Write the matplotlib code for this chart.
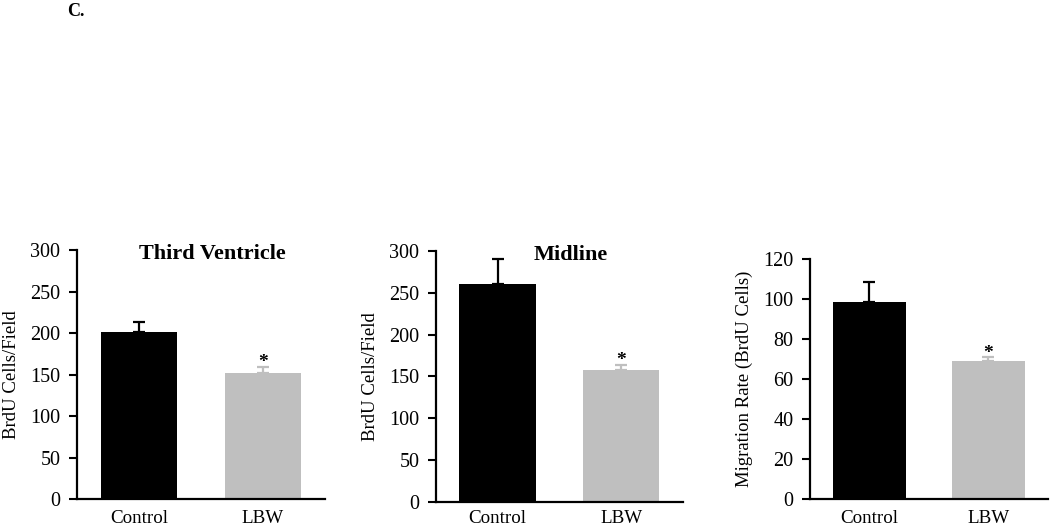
import matplotlib.pyplot as plt

plt.rcParams['font.family'] = ['Liberation Serif', 'DejaVu Serif']

# Data
groups = ['Control', 'LBW']
third_ventricle = [201, 152]
third_ventricle_err = [12, 7]
midline = [260, 158]
midline_err = [30, 6]
migration = [98.5, 69]
migration_err = [10, 1.8]

bar_colors = ['#000000', '#BFBFBF']

fig = plt.figure(figsize=(10.5, 5.29), dpi=100)

panels = [
    # (rect, values, errors, ylim, yticks, ylabel, title, xlabel pad)
    ([0.0733, 0.0567, 0.2362, 0.4707], third_ventricle, third_ventricle_err,
     300, range(0, 301, 50), 'BrdU Cells/Field', 'Third Ventricle', 8),
    ([0.4152, 0.0510, 0.2352, 0.4750], midline, midline_err,
     300, range(0, 301, 50), 'BrdU Cells/Field', 'Midline', 6),
    ([0.7714, 0.0567, 0.2267, 0.4537], migration, migration_err,
     120, range(0, 121, 20), 'Migration Rate (BrdU Cells)', None, 8),
]

for rect, vals, errs, ytop, yticks, ylabel, title, xpad in panels:
    ax = fig.add_axes(rect)
    x = range(len(groups))
    ax.bar(x, vals, width=0.62, color=bar_colors, zorder=2)
    for i in x:
        ax.errorbar(i, vals[i], yerr=[[0], [errs[i]]], fmt='none',
                    ecolor=bar_colors[i], elinewidth=1.6, capsize=4.5,
                    capthick=1.6, zorder=1)
    # significance marker above LBW
    ax.annotate('*', xy=(1, vals[1] + errs[1]), xytext=(0, -3),
                textcoords='offset points', ha='center', va='bottom',
                fontsize=14, fontweight='bold')
    ax.set_xlim(-0.5, 1.5)
    ax.set_ylim(0, ytop)
    ax.set_yticks(list(yticks))
    ax.set_xticks(list(x))
    ax.set_xticklabels(groups)
    ax.set_ylabel(ylabel, fontsize=13.5, labelpad=7)
    for s in ['top', 'right']:
        ax.spines[s].set_visible(False)
    for s in ['left', 'bottom']:
        ax.spines[s].set_linewidth(1.6)
    ax.tick_params(axis='y', direction='out', length=6, width=1.5,
                   labelsize=14.5, pad=6)
    ax.tick_params(axis='x', length=0, labelsize=13.7, pad=xpad)
    if title:
        ax.text(0.545, 0.985, title, transform=ax.transAxes, ha='center',
                va='center', fontsize=16, fontweight='bold')

fig.text(0.064, 0.978, 'C.', fontsize=13, fontweight='bold', va='center')

fig.savefig('out.png', dpi=100)
